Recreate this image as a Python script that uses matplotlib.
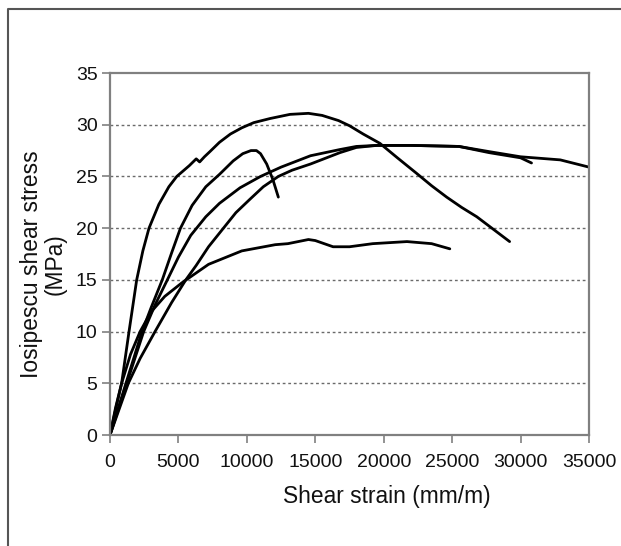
import matplotlib.pyplot as plt
from matplotlib.lines import Line2D

plt.rcParams["font.family"] = ["Liberation Sans", "DejaVu Sans"]

# Specimen curves (strain in mm/m, stress in MPa)
strain_a = [0, 500, 850, 1390, 1950, 2400, 2850, 3570, 4300, 4880, 5800, 6300, 6550,
            6900, 7300, 8000, 8800, 9630, 10500, 11700, 13150, 14500, 15500, 16700,
            17500, 18500, 19720, 21000, 22400, 23500, 24600, 25700, 26800, 28000, 29200]
stress_a = [0, 3.0, 5.0, 10, 15, 17.8, 20, 22.3, 24.0, 25.0, 26.05, 26.7, 26.4,
            26.9, 27.4, 28.3, 29.1, 29.7, 30.2, 30.6, 31.0, 31.1, 30.9, 30.4,
            29.9, 29.1, 28.2, 26.8, 25.3, 24.1, 23.0, 22.0, 21.1, 19.9, 18.7]

strain_b = [0, 1000, 2340, 3000, 3820, 4500, 5150, 6000, 7000, 8000, 9000, 9700,
            10300, 10700, 11000, 11450, 11900, 12300]
stress_b = [0, 4.3, 10, 12.3, 15, 17.6, 20, 22.2, 24.0, 25.2, 26.5, 27.2,
            27.5, 27.5, 27.2, 26.2, 24.7, 23.0]

strain_c = [0, 1000, 2460, 3300, 4190, 5000, 5900, 7000, 8000, 9500, 11000, 12500,
            14650, 16800, 18000, 19500, 22000, 25500, 27700, 30000, 30800]
stress_c = [0, 4.1, 10, 12.6, 15, 17.2, 19.3, 21.1, 22.4, 23.9, 25.0, 25.9,
            27.0, 27.6, 27.9, 28.0, 28.0, 27.9, 27.3, 26.8, 26.3]

strain_d = [0, 1340, 2200, 3290, 4500, 5540, 6300, 7200, 8290, 9200, 10230, 11200,
            12300, 13300, 14650, 16800, 18000, 19500, 22000, 25500, 27700,
            30000, 32900, 35000]
stress_d = [0, 5, 7.4, 10, 12.8, 15, 16.4, 18.2, 20, 21.5, 22.8, 24.0,
            25.0, 25.6, 26.2, 27.3, 27.8, 28.0, 28.0, 27.9, 27.4,
            26.9, 26.6, 25.9]

strain_e = [0, 400, 850, 1500, 2200, 3000, 4000, 5240, 7200, 9630, 12070, 13000,
            14500, 15000, 16300, 17500, 19200, 21700, 23500, 24830]
stress_e = [0, 2.6, 5.0, 7.8, 10, 11.9, 13.4, 14.7, 16.5, 17.8, 18.4, 18.5,
            18.9, 18.8, 18.2, 18.2, 18.5, 18.7, 18.5, 18.0]

x_ticks = [0, 5000, 10000, 15000, 20000, 25000, 30000, 35000]
y_ticks = [0, 5, 10, 15, 20, 25, 30, 35]

W, H = 621, 546
fig = plt.figure(figsize=(W / 100, H / 100), dpi=100)
ax = fig.add_axes([110 / W, 1 - 435 / H, (589 - 110) / W, (435 - 73) / H])

for xs, ys in [(strain_a, stress_a), (strain_b, stress_b), (strain_c, stress_c),
               (strain_d, stress_d), (strain_e, stress_e)]:
    ax.plot(xs, ys, color="black", lw=2.0, solid_joinstyle="round",
            solid_capstyle="round")

ax.set_xlim(0, 35000)
ax.set_ylim(0, 35)
ax.set_xticks(x_ticks)
ax.set_yticks(y_ticks)
ax.set_xticklabels([str(t) for t in x_ticks])

# dashed gridlines
for y in y_ticks[1:-1]:
    ax.axhline(y, color="#6a6a6a", lw=1.0, ls=(0, (2, 2)), zorder=0)

for s in ax.spines.values():
    s.set_color("#808080")
    s.set_linewidth(1.6)
ax.tick_params(axis="both", direction="out", length=6, width=1.2, color="#808080",
               labelsize=14, labelcolor="#111111")
ax.tick_params(axis="x", pad=8)
ax.tick_params(axis="y", pad=3)

fig.text(387 / W, 1 - 497 / H, "Shear strain (mm/m)", ha="center", va="center",
         fontsize=16.4, color="#111111")
fig.text(43 / W, 1 - 264 / H, "Iosipescu shear stress\n(MPa)", ha="center", va="center",
         rotation=90, fontsize=16.4, color="#111111", linespacing=1.05, multialignment="center")

# outer frame (top and left edges)
fig.add_artist(Line2D([8 / W, 8 / W, 1], [0, 1 - 9 / H, 1 - 9 / H],
                      transform=fig.transFigure, color="#555555", lw=1.5))

fig.savefig("out.png", dpi=100)
